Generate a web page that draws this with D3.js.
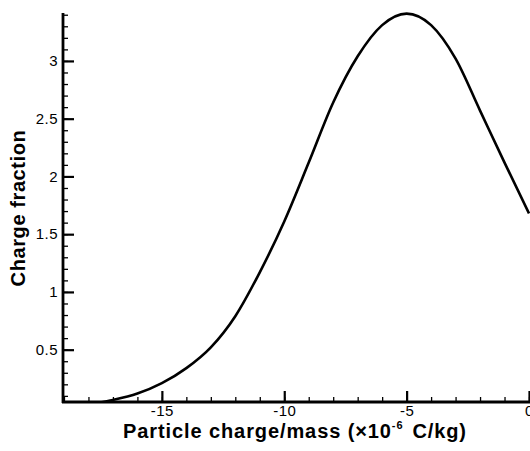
<!DOCTYPE html>
<html><head><meta charset="utf-8">
<script src="https://cdn.jsdelivr.net/npm/d3@7"></script>
<style>body{margin:0;background:#fff}svg{display:block}</style>
</head><body>
<svg id="c" width="530" height="451"></svg>
<script>
const chargeMass = [-17.6,-17,-16,-15,-14,-13,-12,-11,-10,-9,-8,-7,-6,-5,-4,-3,-2,-1,0];
const chargeFraction = [0.04,0.065,0.12,0.21,0.34,0.52,0.79,1.17,1.61,2.12,2.64,3.04,3.31,3.41,3.31,3.02,2.57,2.12,1.68];
const xMajorTicks = [-15,-10,-5,0];
const yMajorTicks = [0.5,1,1.5,2,2.5,3];
const xTitle = "Particle charge/mass (\u00d710";
const xTitleExp = "-6";
const xTitleUnit = "C/kg)";
const yTitle = "Charge fraction";

const svg = d3.select("#c");
const L = 63, R = 529, T = 13, B = 402;
const x = d3.scaleLinear().domain([-19.04, 0]).range([L, R]);
const y = d3.scaleLinear().domain([0.047, 3.415]).range([B, T]);
const font = "Arial, 'Liberation Sans', sans-serif";

svg.append("clipPath").attr("id","clip").append("rect")
  .attr("x", L).attr("y", T-5).attr("width", R-L+2).attr("height", B-T+5);

const data = chargeMass.map((d,i)=>({x:d, y:chargeFraction[i]}));
svg.append("path").datum(data)
  .attr("clip-path","url(#clip)")
  .attr("fill","none").attr("stroke","#000").attr("stroke-width",2.6)
  .attr("d", d3.line().x(d=>x(d.x)).y(d=>y(d.y)).curve(d3.curveMonotoneX));

const fmt = d => String(d);

// Y axis
const yMinor = d3.range(0.1, 3.41, 0.1).filter(v=>v>=y.domain()[0]);
const gy = svg.append("g").attr("transform",`translate(${L},0)`);
gy.call(d3.axisRight(y).tickValues(yMinor).tickSize(5).tickFormat(""));
gy.selectAll(".tick line").attr("stroke-width",1.3);
const gy2 = svg.append("g").attr("transform",`translate(${L},0)`);
gy2.call(d3.axisRight(y).tickValues(yMajorTicks).tickSize(11).tickFormat(fmt));
gy2.selectAll(".tick line").attr("stroke-width",2.2);
gy2.selectAll(".tick text").attr("x",-5).attr("text-anchor","end")
  .attr("font-family",font).attr("font-size",15).attr("letter-spacing",0.5).attr("fill","#000");
svg.selectAll(".domain").remove();
svg.append("line").attr("x1",L).attr("x2",L).attr("y1",T).attr("y2",B+1)
  .attr("stroke","#000").attr("stroke-width",2.8);

// X axis
const xMinor = d3.range(-19, 0.1, 1);
const gx = svg.append("g").attr("transform",`translate(0,${B})`);
gx.call(d3.axisTop(x).tickValues(xMinor).tickSize(5).tickFormat(""));
gx.selectAll(".tick line").attr("stroke-width",1.3);
const gx2 = svg.append("g").attr("transform",`translate(0,${B})`);
gx2.call(d3.axisTop(x).tickValues(xMajorTicks).tickSize(11).tickFormat(fmt));
gx2.selectAll(".tick line").attr("stroke-width",2.2);
gx2.selectAll(".tick text").attr("y",14).attr("dy",0)
  .attr("font-family",font).attr("font-size",15).attr("letter-spacing",0.5).attr("fill","#000");
svg.selectAll(".domain").remove();
svg.append("line").attr("x1",L-1).attr("x2",530).attr("y1",B).attr("y2",B)
  .attr("stroke","#000").attr("stroke-width",2.8);

// Titles
const xt = svg.append("text").attr("x",295).attr("y",438).attr("text-anchor","middle")
  .attr("font-family",font).attr("font-weight","bold").attr("font-size",20).attr("letter-spacing",0.9).attr("fill","#000");
xt.append("tspan").text(xTitle);
xt.append("tspan").attr("dy",-9).attr("font-size",11).text(xTitleExp);
xt.append("tspan").attr("dy",9).attr("dx",9).text(xTitleUnit);

svg.append("text").attr("transform","translate(25,208) rotate(-90)").attr("text-anchor","middle")
  .attr("font-family",font).attr("font-weight","bold").attr("font-size",20).attr("letter-spacing",0.6).attr("fill","#000")
  .text(yTitle);
</script>
</body></html>
